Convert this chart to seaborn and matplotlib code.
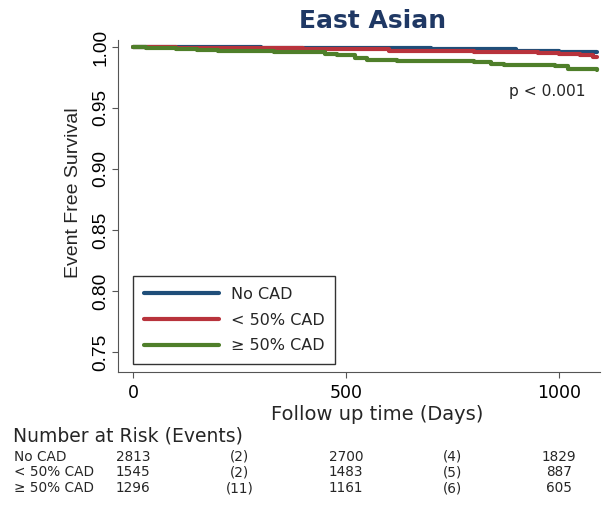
import matplotlib
matplotlib.use("Agg")
import matplotlib.pyplot as plt
import matplotlib.transforms as mtransforms
import seaborn as sns
import pandas as pd

sns.set_style("ticks")
plt.rcParams['font.family'] = ['DejaVu Sans']
NARROW = ['Liberation Sans', 'DejaVu Sans']
WIDE = ['DejaVu Sans']

# ---- data ----
groups = ["No CAD", "< 50% CAD", "\u2265 50% CAD"]
colors = ["#1f4e79", "#b8333c", "#4f7f2a"]

t_nocad = [0, 300, 500, 700, 900, 1000, 1060, 1090]
s_nocad = [1.0, 0.9995, 0.999, 0.998, 0.997, 0.996, 0.9955, 0.9955]

t_lt50 = [0, 100, 250, 400, 600, 800, 950, 1000, 1050, 1080, 1090]
s_lt50 = [1.0, 0.9995, 0.999, 0.998, 0.997, 0.996, 0.995, 0.994, 0.993, 0.992, 0.992]

t_ge50 = [0, 30, 60, 100, 150, 200, 280, 330, 400, 450, 480, 520, 550, 620, 800, 840, 870, 990, 1020, 1090]
s_ge50 = [1.0, 0.9995, 0.999, 0.998, 0.9975, 0.997, 0.9965, 0.996, 0.9955, 0.994, 0.993, 0.991, 0.989,
          0.9885, 0.988, 0.986, 0.985, 0.984, 0.982, 0.981]

risk_times = [0, 250, 500, 750, 1000]
risk_nocad = ["2813", "(2)", "2700", "(4)", "1829"]
risk_lt50 = ["1545", "(2)", "1483", "(5)", "887"]
risk_ge50 = ["1296", "(11)", "1161", "(6)", "605"]

yticks = [0.75, 0.80, 0.85, 0.90, 0.95, 1.00]
xticks = [0, 500, 1000]

# ---- build frame ----
rows = []
for g, ts, ss in zip(groups, [t_nocad, t_lt50, t_ge50], [s_nocad, s_lt50, s_ge50]):
    for t, s in zip(ts, ss):
        rows.append({"time": t, "surv": s, "group": g})
df = pd.DataFrame(rows)

fig = plt.figure(figsize=(6.06, 5.05), dpi=100)
ax = fig.add_axes([118/606, 1-372/505, (600-118)/606, (372-40)/505])

sns.lineplot(data=df, x="time", y="surv", hue="group", hue_order=groups,
             palette=colors, drawstyle="steps-post", linewidth=3, ax=ax, legend=True)

ax.set_xlim(-35, 1096)
ax.set_ylim(0.7335, 1.0057)
ax.set_yticks(yticks)
ax.set_yticklabels([f"{v:.2f}" for v in yticks], rotation=90, va="center",
                   fontsize=13.8, family=NARROW)
ax.set_xticks(xticks)
ax.set_xticklabels([str(v) for v in xticks], fontsize=12.5, family=WIDE)
ax.set_xlabel("Follow up time (Days)", fontsize=14, family=WIDE)
ax.xaxis.set_label_coords(0.537, -0.098)
ax.set_ylabel("Event Free Survival", fontsize=14, family=NARROW)
ax.yaxis.set_label_coords(-0.075, 0.54)
for sp in ["top", "right"]:
    ax.spines[sp].set_visible(False)
for sp in ["left", "bottom"]:
    ax.spines[sp].set_color("#555555")
ax.tick_params(axis="both", colors="#555555", labelcolor="black", length=4)
ax.tick_params(axis="y", pad=2)
ax.tick_params(axis="x", pad=4.5)

ax.set_title("East Asian", fontsize=18, fontweight="bold", color="#1f3864", pad=9,
             family=WIDE, x=0.529)
ax.text(0.97, 0.845, "p < 0.001", transform=ax.transAxes, ha="right", va="center",
        fontsize=11.2, family=WIDE)

leg = ax.legend(loc="lower left", bbox_to_anchor=(0.031, 0.024),
                prop={"family": WIDE, "size": 11.5},
                handlelength=4.7, frameon=True, fancybox=False, edgecolor="black",
                borderpad=0.68, labelspacing=0.66, handletextpad=0.75, borderaxespad=0)
leg.get_frame().set_linewidth(1.0)
leg.set_title(None)

# ---- number at risk table ----
trans = mtransforms.blended_transform_factory(ax.transData, fig.transFigure)
fig.text(13/606, 1-436/505, "Number at Risk (Events)", fontsize=13.5, va="center", ha="left",
         family=WIDE)
row_base = [1-461/505, 1-476.5/505, 1-492/505]
for name, vals, y in zip(groups, [risk_nocad, risk_lt50, risk_ge50], row_base):
    fig.text(14/606, y, name, fontsize=9.8, va="baseline", ha="left", family=WIDE)
    for t, v in zip(risk_times, vals):
        ax.text(t, y, v, transform=trans, fontsize=9.8, va="baseline", ha="center",
                clip_on=False, family=WIDE)

fig.savefig("out.png", dpi=100)
